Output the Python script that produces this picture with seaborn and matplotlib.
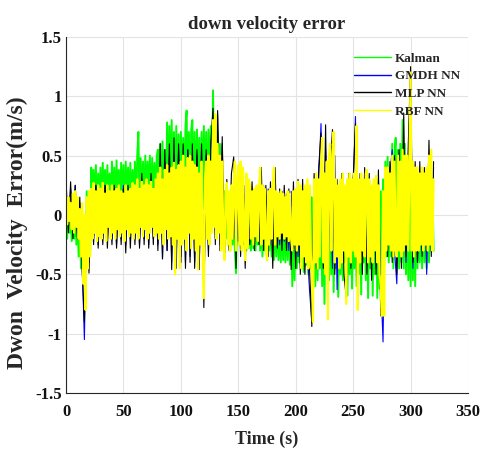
import numpy as np
import pandas as pd
import matplotlib
matplotlib.use("Agg")
import matplotlib.pyplot as plt
import seaborn as sns

# ---------------- data ----------------
methods = ["Kalman", "GMDH NN", "MLP NN", "RBF NN"]
line_colors = ["#00ff00", "#0000ff", "#000000", "#ffff00"]

# Kalman error, one value per second (t = 0..320 s)
kalman_err = [
    .05, -.20, .10, -.15, .00, -.22, .08, -.20, .10, -.25,
    .00, -.35, -.05, -.45, .00, -.52, -.10, -.50, .20, -.40,
    .15, -.30, .40, -.05, .38, .00, .42, -.05, .35, .05,
    .40, -.05, .44, .00, .38, -.08, .42, .05, .35, -.05,
    .45, .00, .40, -.05, .46, .05, .38, -.02, .44, .00,
    .42, -.05, .45, .00, .40, -.05, .44, .02, .38, -.05,
    .45, .00, .50, .70, .05, .48, .00, .45, -.05, .50,
    .05, .45, .00, .50, -.02, .48, .05, .44, .00, .50,
    .55, .05, .60, .00, .62, .05, .55, .00, .78, .10,
    .75, .05, .80, .00, .70, .05, .75, .00, .68, .05,
    .70, .00, .65, .05, .75, .88, .05, .70, .00, .72,
    .80, .05, .70, .00, .72, .05, .65, .00, .70, .05,
    .75, .05, .70, .00, .72, .10, .75, .00, 1.05, .10,
    .75, .00, .70, .05, .60, .00, .30, -.10, .20, -.20,
    .20, -.25, .15, -.30, .20, -.25, .15, -.30, -.49, .10,
    .20, -.25, .15, -.30, .20, -.25, .15, -.30, .20, -.28,
    .15, -.30, .10, -.28, .15, -.30, .10, -.25, .15, -.30,
    .10, -.35, .15, -.30, .10, -.38, .15, -.30, .10, -.35,
    .15, -.38, .10, -.35, .15, -.38, .05, -.40, .10, -.38,
    .10, -.40, .05, -.38, .10, -.42, .05, -.60, .00, -.55,
    .10, -.45, .05, -.40, .10, -.45, .05, -.48, .10, -.42,
    .15, -.50, .10, -.45, .15, -.55, .10, -.60, .20, -.55,
    .15, -.45, .20, -.60, .10, -.75, .15, -.40, .20, -.55,
    .15, -.50, .20, -.65, .10, -.45, .15, -.69, .20, -.50,
    .10, -.55, .15, -.40, .20, -.68, .10, -.50, .15, -.62,
    .10, -.45, .15, -.60, .20, -.50, .10, -.67, .15, -.40,
    .10, -.55, .15, -.70, .10, -.45, .15, -.68, .10, -.50,
    .15, -.70, .10, -.62, .20, -.50, .30, -.40, .45, -.35,
    .49, -.40, .40, -.35, .60, -.45, .50, .65, -.40, .55,
    -.45, .60, -.40, .80, -.45, .60, -.50, .30, -.55, .25,
    -.60, .30, -.55, .25, -.60, .30, -.45, .25, -.40, .30,
    -.45, .25, -.40, .30, -.45, .30, -.40, .25, -.30, .30,
    -.30,
]

# GMDH NN error, one value every 2 s (t = 0..320 s)
gmdh_err = [
    .20, -.10, .22, -.15, .25, -.20, .10, -.40, -1.05, .05,
    -.40, .20, -.20, .25, -.25, .20, -.20, .25, -.22, .20,
    -.20, .22, -.25, .20, -.20, .25, -.25, .20, -.20, .22,
    -.20, .28, -.25, .30, -.20, .28, -.25, .30, -.20, .30,
    -.25, .40, -.37, .45, -.30, .50, -.40, .50, -.35, .55,
    -.35, .50, -.40, .55, -.35, .50, -.40, .50, -.42, .55,
    -.70, .50, -.30, .55, .80, -.20, .85, -.25, .60, -.35,
    .20, -.22, .25, -.20, .25, -.22, .20, -.25, .25, -.20,
    .20, -.20, .22, -.18, .20, -.22, .25, -.20, .22, -.25,
    .20, -.22, .18, -.25, .20, -.22, .18, -.30, .20, -.30,
    .20, -.35, .22, -.30, .20, -.30, -.63, -.90, .25, -.35,
    .30, .77, -.35, .55, -.40, .35, -.45, .50, -.63, .25,
    -.35, .25, -.50, .25, -.35, .25, .83, -.70, .25, -.35,
    .30, -.40, .25, -.40, .25, -.45, .30, -.55, -1.07, .30,
    -.25, .35, .55, -.30, -.58, .45, -.35, .60, -.40, .50,
    1.15, -.45, .35, -.40, .35, -.30, .30, -.50, .45, -.25,
    .40,
]

# MLP NN error, one value every 2 s (t = 0..320 s)
mlp_err = [
    .30, -.15, .28, -.20, .25, -.20, .15, -.45, -.90, .10,
    -.49, .20, -.25, .25, -.28, .22, -.25, .25, -.28, .20,
    -.25, .25, -.28, .20, -.25, .22, -.32, .25, -.28, .20,
    -.25, .30, -.28, .35, -.25, .30, -.28, .35, -.25, .30,
    -.30, .60, -.37, .55, -.30, .60, -.46, .65, -.45, .60,
    -.40, .60, -.45, .55, -.40, .60, -.45, .55, -.46, .60,
    -.78, .55, -.35, .60, .90, -.25, .88, -.30, .66, -.38,
    .30, -.30, .35, .49, -.45, .40, -.35, .38, -.45, .30,
    -.25, .28, -.30, .22, -.25, .40, -.30, .25, -.35, .28,
    -.45, .40, -.28, .22, -.30, .25, -.30, .22, -.46, .28,
    -.45, .30, -.50, .30, -.50, .30, -.45, -.94, .35, -.45,
    .40, .69, -.45, .76, -.60, .40, .72, -.50, .30, -.45,
    .35, -.50, -.70, .35, -.45, .30, .77, -.80, .35, -.50,
    .40, -.50, .35, -.55, .30, -.50, .38, -.85, -.60, .40,
    -.35, .45, -.40, .50, -.50, .55, -.45, .86, -.35, .60,
    1.25, -.40, .45, -.40, .45, -.35, .40, -.30, .63, -.35,
    .45,
]

# RBF NN error, one value per second (t = 0..320 s)
rbf_err = [
    .12, -.08, .15, -.05, .10, -.12, .18, -.15, .20, -.10,
    .15, -.20, .05, -.35, .10, -.58, .00, -.80, .15, -.45,
    .20, -.35, .22, -.20, .27, -.15, .20, -.22, .25, -.18,
    .22, -.20, .27, -.15, .18, -.22, .25, -.10, .20, -.20,
    .25, -.15, .20, -.20, .22, -.12, .25, -.18, .20, -.15,
    .18, -.22, .25, -.12, .20, -.18, .22, -.15, .27, -.20,
    .25, -.15, .30, -.20, .22, -.10, .28, -.18, .25, -.12,
    .30, -.20, .25, -.15, .28, -.10, .22, -.18, .30, -.15,
    .35, -.20, .40, -.15, .30, -.25, .38, -.12, .42, -.20,
    .35, -.18, .40, -.25, .44, -.50, .38, -.20, .42, -.45,
    .45, -.25, .50, -.20, .40, -.30, .48, -.15, .50, -.28,
    .45, -.20, .42, -.30, .40, -.46, .35, -.25, .45, -.35,
    -.70, .30, .45, -.20, .50, -.25, .45, -.15, .80, -.10,
    .85, -.20, .60, -.15, .50, -.30, .45, -.25, -.38, .20,
    .27, -.25, .20, -.30, .25, -.20, .27, .45, -.30, .30,
    .42, -.25, .45, -.30, .40, -.20, -.38, .35, -.28, .30,
    .25, -.20, .20, -.25, .22, -.18, .25, -.22, .20, .40,
    -.25, .25, -.20, .22, -.30, -.38, .20, -.25, .22, -.20,
    .25, .40, -.25, .20, -.18, .18, -.20, .20, -.15, .18,
    -.20, .15, -.18, .20, -.22, .18, -.20, -.30, .20, -.25,
    .22, -.30, .28, -.25, .25, -.45, .20, -.35, .25, -.40,
    .30, -.45, .25, -.30, -.50, -.90, .30, -.40, .35, -.45,
    .30, -.35, .40, .65, -.40, .35, -.50, .45, -.88, .50,
    .60, -.30, .45, .70, -.40, .30, -.35, .25, -.45, .30,
    -.40, .35, -.30, .25, -.75, .30, -.35, .35, -.40, .30,
    -.30, .35, -.35, .75, -.80, .30, -.40, .35, -.30, .30,
    -.35, .35, .38, -.40, .30, -.35, .25, -.40, .30, -.30,
    .33, -.40, .25, -.50, -.60, -.85, .20, -.85, .40, -.30,
    .40, -.25, .35, -.30, .50, -.35, .45, -.30, -.35, .50,
    -.30, .45, -.35, .55, -.30, .50, -.25, .50, -.30, .45,
    1.20, -.30, .45, -.35, .40, -.30, .40, -.30, .35, -.25,
    .40, -.30, .35, -.25, .40, -.30, .50, -.25, .55, -.30,
    .30,
]

sample_step_s = [1, 2, 2, 1]   # sampling interval of each series (s)

x_ticks = [0, 50, 100, 150, 200, 250, 300, 350]
y_ticks = [-1.5, -1, -0.5, 0, 0.5, 1, 1.5]
y_tick_labels = ["-1.5", "-1", "-0.5", "0", "0.5", "1", "1.5"]

title_text = "down velocity error"
x_label = "Time (s)"
y_label = "Dwon  Velocity  Error(m/s)"

# ---------------- build long-form table ----------------
frames = []
for name, vals, step in zip(methods, [kalman_err, gmdh_err, mlp_err, rbf_err], sample_step_s):
    frames.append(pd.DataFrame({"time": np.arange(len(vals)) * step,
                                "err": vals, "method": name}))
df = pd.concat(frames, ignore_index=True)

# ---------------- style ----------------
sns.set_style("white")
plt.rcParams["font.family"] = ["Liberation Serif", "DejaVu Serif"]
plt.rcParams["font.weight"] = "bold"
plt.rcParams["axes.unicode_minus"] = False

fig = plt.figure(figsize=(4.84, 4.5), dpi=100)
ax = fig.add_axes([0.1364, 0.1267, 0.8306, 0.7911])

line_widths = {"Kalman": 1.4, "GMDH NN": 0.8, "MLP NN": 0.8, "RBF NN": 1.6}
for name, color in zip(methods, line_colors):
    sns.lineplot(data=df[df["method"] == name], x="time", y="err",
                 color=color, estimator=None, sort=False,
                 linewidth=line_widths[name], label=name, ax=ax)

ax.set_xlim(0, 350)
ax.set_ylim(-1.5, 1.5)
ax.set_xticks(x_ticks)
ax.set_xticklabels([str(v) for v in x_ticks])
ax.set_yticks(y_ticks)
ax.set_yticklabels(y_tick_labels)

ax.grid(True, color="#e3e3e3", linewidth=0.8)
ax.set_axisbelow(True)
for s in ["top", "right"]:
    ax.spines[s].set_visible(False)
for s in ["left", "bottom"]:
    ax.spines[s].set_color("#262626")
    ax.spines[s].set_linewidth(0.8)

ax.tick_params(axis="both", direction="in", length=3.5, width=0.8,
               color="#262626", labelcolor="#111111", labelsize=12)
ax.tick_params(axis="x", pad=8)
ax.tick_params(axis="y", pad=3)
for lab in ax.get_xticklabels() + ax.get_yticklabels():
    lab.set_fontweight("bold")

ax.set_title(title_text, fontsize=13.5, fontweight="bold", pad=6)
ax.set_xlabel(x_label, fontsize=13, fontweight="bold")
ax.xaxis.set_label_coords(0.5, -0.105)
ax.set_ylabel(y_label, fontsize=17, fontweight="bold", va="center")
ax.yaxis.set_label_coords(-0.12, 0.45)

handles, labels = ax.get_legend_handles_labels()
leg = ax.legend(handles, labels, loc="upper left", bbox_to_anchor=(0.716, 0.957),
                frameon=False, fontsize=9.5, handlelength=2.8, handletextpad=0.3,
                labelspacing=0.42, borderpad=0, borderaxespad=0)
for line in leg.get_lines():
    line.set_linewidth(1.0)
for t in leg.get_texts():
    t.set_fontweight("bold")

fig.savefig("out.png", dpi=100)
